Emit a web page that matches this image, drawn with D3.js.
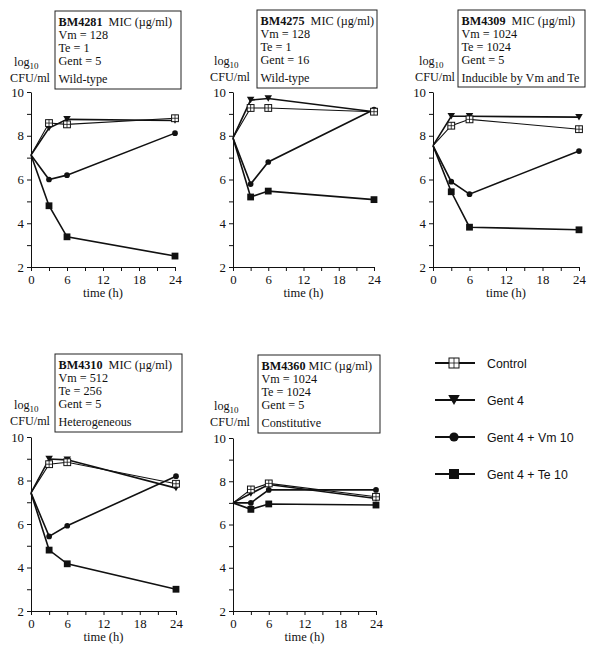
<!DOCTYPE html>
<html><head><meta charset="utf-8">
<script src="https://cdn.jsdelivr.net/npm/d3@7"></script>
<style>
body{margin:0;background:#fff;}
svg{display:block;}
text{font-family:"Liberation Serif","Times New Roman",serif;fill:#111;}
.leg text{font-family:"Liberation Sans",Arial,sans-serif;}
</style></head>
<body>
<svg id="c" width="593" height="648"></svg>
<script>
// ---- data ----
const times = [0, 3, 6, 24];
const strains = ["BM4281", "BM4275", "BM4309", "BM4310", "BM4360"];
const vmMIC = [128, 128, 1024, 512, 1024];
const teMIC = [1, 1, 1024, 256, 1024];
const gentMIC = [5, 16, 5, 5, 5];
const phenotypes = ["Wild-type", "Wild-type", "Inducible by Vm and Te", "Heterogeneous", "Constitutive"];
const seriesNames = ["Control", "Gent 4", "Gent 4 + Vm 10", "Gent 4 + Te 10"];
const control = [[7.12, 8.58, 8.52, 8.8], [7.9, 9.27, 9.27, 9.1], [7.55, 8.46, 8.75, 8.3], [7.43, 8.75, 8.84, 7.85], [7.0, 7.62, 7.9, 7.28]];
const gent4 = [[7.12, 8.35, 8.75, 8.7], [7.9, 9.63, 9.7, 9.1], [7.55, 8.89, 8.89, 8.85], [7.43, 8.99, 8.95, 7.65], [7.0, 7.43, 7.85, 7.2]];
const gentVm = [[7.12, 6.0, 6.2, 8.12], [7.9, 5.79, 6.8, 9.2], [7.55, 5.9, 5.33, 7.3], [7.43, 5.43, 5.92, 8.2], [7.0, 7.0, 7.6, 7.6]];
const gentTe = [[7.12, 4.8, 3.38, 2.5], [7.9, 5.2, 5.47, 5.08], [7.55, 5.44, 3.82, 3.7], [7.43, 4.8, 4.17, 3.0], [7.0, 6.7, 6.95, 6.9]];
const yTicks = [2, 3, 4, 5, 6, 7, 8, 9, 10];
const xTicks = [0, 3, 6, 9, 12, 15, 18, 21, 24];

// ---- layout (positions only) ----
const layout = [
  {x0: 31, x1: 175, yT: 92, yB: 267, bx: 55, by: 11, bw: 126, bh: 78, lab: 50, sep: "\u00a0\u00a0"},
  {x0: 233, x1: 374, yT: 92, yB: 267, bx: 257, by: 10, bw: 120, bh: 78, lab: 250, sep: "\u00a0\u00a0"},
  {x0: 433, x1: 579, yT: 92, yB: 267, bx: 458, by: 10, bw: 127, bh: 77, lab: 455, sep: "\u00a0\u00a0"},
  {x0: 31, x1: 176, yT: 437, yB: 611, bx: 55, by: 354, bw: 127, bh: 78, lab: 50, sep: "\u00a0\u00a0"},
  {x0: 233, x1: 376, yT: 438, yB: 611, bx: 258, by: 355, bw: 122, bh: 78, lab: 250, sep: "\u00a0"}
];

const svg = d3.select("#c");
const FS = 12.2;

function marker(g, type, x, y, s) {
  if (type === 0) {
    const h = s / 2;
    g.append("rect").attr("x", x - h).attr("y", y - h).attr("width", s).attr("height", s)
      .attr("fill", "#fff").attr("stroke", "#111").attr("stroke-width", 1);
    g.append("line").attr("x1", x).attr("x2", x).attr("y1", y - h).attr("y2", y + h).attr("stroke", "#111").attr("stroke-width", 0.8);
    g.append("line").attr("x1", x - h).attr("x2", x + h).attr("y1", y).attr("y2", y).attr("stroke", "#111").attr("stroke-width", 0.8);
  } else if (type === 1) {
    const w = s * 1.1, h = s * 0.95;
    g.append("path").attr("d", `M${x - w / 2},${y - h / 2}L${x + w / 2},${y - h / 2}L${x},${y + h / 2}Z`).attr("fill", "#111");
  } else if (type === 2) {
    g.append("circle").attr("cx", x).attr("cy", y).attr("r", s * 0.46).attr("fill", "#111");
  } else {
    const h = s * 0.5;
    g.append("rect").attr("x", x - h).attr("y", y - h).attr("width", 2 * h).attr("height", 2 * h).attr("fill", "#111");
  }
}

const allSeries = [control, gent4, gentVm, gentTe];

layout.forEach((L, i) => {
  const g = svg.append("g");
  const x = d3.scaleLinear().domain([0, 24]).range([L.x0, L.x1]);
  const y = d3.scaleLinear().domain([2, 10]).range([L.yB, L.yT]);

  const ya = g.append("g").attr("transform", `translate(${L.x0},0)`)
    .call(d3.axisLeft(y).tickValues(yTicks).tickSize(4).tickSizeOuter(0).tickPadding(3)
      .tickFormat(d => d % 2 === 0 ? d : ""));
  const xa = g.append("g").attr("transform", `translate(0,${L.yB})`)
    .call(d3.axisBottom(x).tickValues(xTicks).tickSize(4).tickSizeOuter(0).tickPadding(4)
      .tickFormat(d => d % 6 === 0 ? d : ""));
  [ya, xa].forEach(a => {
    a.selectAll("text").attr("font-family", "Liberation Serif").attr("font-size", 12.8).attr("fill", "#111");
    a.selectAll("line,path").attr("stroke", "#111").attr("stroke-width", 1);
  });

  g.append("text").attr("x", (L.x0 + L.x1) / 2).attr("y", L.yB + 30).attr("text-anchor", "middle")
    .attr("font-size", 12.5).text("time (h)");

  // y label
  const yl = g.append("text").attr("x", L.lab - 36).attr("y", L.by + 54.5).attr("font-size", FS);
  yl.append("tspan").text("log");
  yl.append("tspan").attr("dy", 3).attr("font-size", 9).text("10");
  g.append("text").attr("x", L.lab).attr("y", L.by + 71).attr("text-anchor", "end")
    .attr("font-size", FS).text("CFU/ml");

  // info box
  g.append("rect").attr("x", L.bx).attr("y", L.by).attr("width", L.bw).attr("height", L.bh)
    .attr("fill", "#fff").attr("stroke", "#222").attr("stroke-width", 1);
  const tx = L.bx + 3.5;
  const t0 = g.append("text").attr("x", tx).attr("y", L.by + 14.5).attr("font-size", FS);
  t0.append("tspan").attr("font-weight", "bold").text(strains[i]);
  t0.append("tspan").text(L.sep + "MIC (\u00b5g/ml)");
  g.append("text").attr("x", tx).attr("y", L.by + 28).attr("font-size", FS).text("Vm = " + vmMIC[i]);
  g.append("text").attr("x", tx).attr("y", L.by + 41).attr("font-size", FS).text("Te = " + teMIC[i]);
  g.append("text").attr("x", tx).attr("y", L.by + 54).attr("font-size", FS).text("Gent = " + gentMIC[i]);
  g.append("text").attr("x", tx).attr("y", L.by + 72).attr("font-size", FS).text(phenotypes[i]);

  // lines
  const line = d3.line().x((d, k) => x(times[k])).y(d => y(d));
  [3, 2, 1, 0].forEach(s => {
    g.append("path").datum(allSeries[s][i]).attr("d", line).attr("fill", "none")
      .attr("stroke", "#111").attr("stroke-width", s === 0 ? 1.1 : 1.6);
  });
  [3, 2, 1, 0].forEach(s => {
    allSeries[s][i].forEach((v, k) => {
      if (k === 0) return;
      marker(g, s, x(times[k]), y(v), s === 2 ? 6.2 : 6.8);
    });
  });
});

// legend
const lg = svg.append("g").attr("class", "leg");
const legY = [363, 400, 437, 474];
seriesNames.forEach((n, s) => {
  lg.append("line").attr("x1", 435).attr("x2", 475).attr("y1", legY[s]).attr("y2", legY[s])
    .attr("stroke", "#111").attr("stroke-width", 2);
  marker(lg, s, 454, legY[s], s === 1 ? 10.5 : 10);
  lg.append("text").attr("x", 487).attr("y", legY[s] + 4.5).attr("font-size", 12.3).text(n);
});
</script>
</body></html>
